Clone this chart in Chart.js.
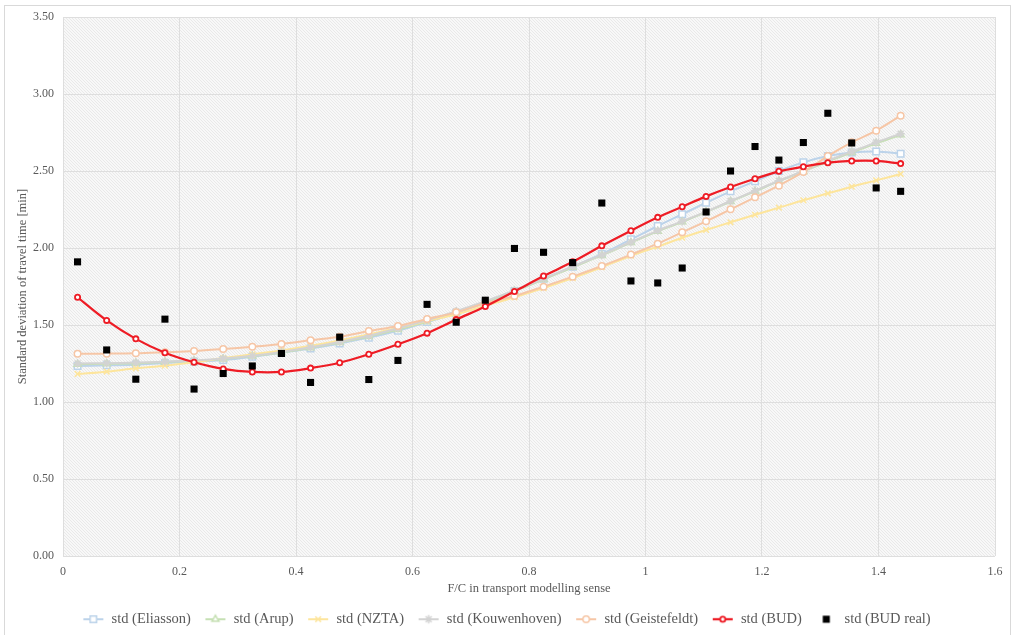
<!DOCTYPE html>
<html>
<head>
<meta charset="utf-8">
<script src="https://cdn.jsdelivr.net/npm/chart.js@4.4.1/dist/chart.umd.min.js"></script>
<style>
  html, body { margin: 0; padding: 0; background: #ffffff; }
  #wrap { position: relative; width: 1014px; height: 635px; overflow: hidden; }
  #frame { position: absolute; left: 4px; top: 5px; width: 1007px; height: 640px; border: 1px solid #d9d9d9; box-sizing: border-box; }
  #c { position: absolute; left: 0; top: 0; }
</style>
</head>
<body>
<div id="wrap">
  <div id="frame"></div>
  <canvas id="c" width="1014" height="635"></canvas>
</div>
<script>
// F/C ratio bins (x positions of every series)
const fcValues = [0.025, 0.075, 0.125, 0.175, 0.225, 0.275, 0.325, 0.375, 0.425, 0.475,
  0.525, 0.575, 0.625, 0.675, 0.725, 0.775, 0.825, 0.875, 0.925, 0.975,
  1.021, 1.063, 1.104, 1.146, 1.188, 1.229, 1.271, 1.313, 1.354, 1.396, 1.438];

// Standard deviation of travel time [min] per model
const stdEliasson = [1.234, 1.238, 1.242, 1.253, 1.262, 1.273, 1.294, 1.320, 1.347, 1.380,
  1.418, 1.463, 1.519, 1.578, 1.645, 1.720, 1.800, 1.878, 1.961, 2.056,
  2.143, 2.219, 2.294, 2.368, 2.433, 2.500, 2.556, 2.597, 2.620, 2.627, 2.612];

const stdArup = [1.245, 1.248, 1.252, 1.260, 1.268, 1.280, 1.298, 1.322, 1.352, 1.386,
  1.425, 1.470, 1.522, 1.582, 1.648, 1.720, 1.795, 1.875, 1.952, 2.035,
  2.108, 2.170, 2.234, 2.302, 2.368, 2.434, 2.497, 2.562, 2.620, 2.680, 2.735];

const stdNZTA = [1.182, 1.197, 1.219, 1.236, 1.258, 1.285, 1.310, 1.335, 1.365, 1.400,
  1.440, 1.480, 1.525, 1.570, 1.625, 1.680, 1.740, 1.805, 1.875, 1.950,
  2.009, 2.067, 2.117, 2.167, 2.216, 2.262, 2.310, 2.355, 2.398, 2.439, 2.481];

const stdKouwenhoven = [1.250, 1.252, 1.256, 1.262, 1.270, 1.282, 1.300, 1.325, 1.355, 1.390,
  1.430, 1.478, 1.530, 1.590, 1.655, 1.725, 1.800, 1.880, 1.955, 2.039,
  2.113, 2.173, 2.236, 2.305, 2.372, 2.437, 2.500, 2.567, 2.626, 2.686, 2.742];

const stdGeistefeldt = [1.314, 1.314, 1.316, 1.323, 1.331, 1.344, 1.359, 1.377, 1.401, 1.424,
  1.461, 1.494, 1.539, 1.582, 1.641, 1.688, 1.749, 1.814, 1.883, 1.957,
  2.028, 2.102, 2.173, 2.251, 2.329, 2.405, 2.494, 2.597, 2.686, 2.762, 2.859];

const stdBUD = [1.680, 1.530, 1.410, 1.320, 1.258, 1.215, 1.195, 1.195, 1.220, 1.255,
  1.310, 1.375, 1.447, 1.535, 1.620, 1.718, 1.818, 1.910, 2.014, 2.112,
  2.199, 2.268, 2.335, 2.396, 2.450, 2.498, 2.528, 2.554, 2.565, 2.565, 2.548];

const stdBUDReal = [1.910, 1.338, 1.148, 1.538, 1.084, 1.185, 1.234, 1.315, 1.127, 1.421,
  1.146, 1.270, 1.634, 1.518, 1.661, 1.997, 1.972, 1.905, 2.292, 1.786,
  1.773, 1.870, 2.234, 2.500, 2.659, 2.571, 2.685, 2.875, 2.682, 2.390, 2.368];

const seriesNames = ['std (Eliasson)', 'std (Arup)', 'std (NZTA)', 'std (Kouwenhoven)',
  'std (Geistefeldt)', 'std (BUD)', 'std (BUD real)'];

// Axis ticks
const xTickValues = [0, 0.2, 0.4, 0.6, 0.8, 1.0, 1.2, 1.4, 1.6];
const xTickLabels = ['0', '0.2', '0.4', '0.6', '0.8', '1', '1.2', '1.4', '1.6'];
const yTickValues = [0, 0.5, 1.0, 1.5, 2.0, 2.5, 3.0, 3.5];
const yTickLabels = ['0.00', '0.50', '1.00', '1.50', '2.00', '2.50', '3.00', '3.50'];

const serif = '"Liberation Serif", "Times New Roman", serif';
const textGrey = '#595959';

function toPoints(ys) {
  return fcValues.map((x, i) => ({ x: x, y: ys[i] }));
}

// Fine hatched fill for the plotting area
function makeHatch() {
  const c = document.createElement('canvas');
  c.width = 3; c.height = 3;
  const g = c.getContext('2d');
  g.fillStyle = '#f8f8f8';
  g.fillRect(0, 0, 3, 3);
  g.fillStyle = '#e9e9e9';
  for (let i = 0; i < 3; i++) g.fillRect(i, i, 1, 1);
  return g.createPattern(c, 'repeat');
}

const plotBackground = {
  id: 'plotBackground',
  afterLayout(chart) {
    // nudge the legend row to the right
    if (chart.legend) { chart.legend.left += 9; chart.legend.right += 9; }
  },
  beforeDraw(chart) {
    const a = chart.chartArea;
    const ctx = chart.ctx;
    ctx.save();
    ctx.fillStyle = makeHatch();
    ctx.fillRect(a.left, a.top, a.right - a.left, a.bottom - a.top);
    ctx.restore();
  }
};

// Legend symbol: short line with the series marker on it
function legendIcon(ds) {
  const c = document.createElement('canvas');
  c.width = 22; c.height = 12;
  const g = c.getContext('2d');
  if (ds.showLine !== false) {
    g.strokeStyle = ds.borderColor;
    g.lineWidth = ds.borderWidth;
    g.beginPath();
    g.moveTo(1, 6); g.lineTo(21, 6);
    g.stroke();
  }
  g.strokeStyle = ds.pointBorderColor;
  g.fillStyle = ds.pointBackgroundColor;
  g.lineWidth = ds.pointBorderWidth;
  Chart.helpers.drawPoint(g, { pointStyle: ds.pointStyle, radius: ds.pointRadius, rotation: 0, borderWidth: ds.pointBorderWidth }, 11, 6);
  return c;
}

function lineSeries(name, ys, color, style, radius, order, width) {
  return {
    label: name,
    data: toPoints(ys),
    borderColor: color,
    backgroundColor: color,
    borderWidth: width,
    pointStyle: style,
    pointRadius: radius,
    pointBorderColor: color,
    pointBackgroundColor: '#ffffff',
    pointBorderWidth: 1.5,
    tension: 0.35,
    order: order
  };
}

const datasets = [
  lineSeries(seriesNames[0], stdEliasson, '#bcd3ea', 'rect', 4.6, 6, 2),
  lineSeries(seriesNames[1], stdArup, '#c6e0b4', 'triangle', 4, 5, 2),
  lineSeries(seriesNames[2], stdNZTA, '#fde59c', 'crossRot', 4, 4, 2),
  lineSeries(seriesNames[3], stdKouwenhoven, '#d3d3d3', 'star', 4.2, 3, 2),
  lineSeries(seriesNames[4], stdGeistefeldt, '#f6c6a6', 'circle', 3.25, 2, 2),
  lineSeries(seriesNames[5], stdBUD, '#ee1c25', 'circle', 2.6, 1, 2.25),
  {
    label: seriesNames[6],
    data: toPoints(stdBUDReal),
    showLine: false,
    borderColor: '#000000',
    backgroundColor: '#000000',
    borderWidth: 0,
    pointStyle: 'rect',
    pointRadius: 5,
    pointBorderColor: '#000000',
    pointBackgroundColor: '#000000',
    pointBorderWidth: 0,
    order: 0
  }
];
datasets[5].pointBorderWidth = 1.8;

new Chart(document.getElementById('c'), {
  type: 'line',
  data: { datasets: datasets },
  plugins: [plotBackground],
  options: {
    responsive: false,
    animation: false,
    layout: { padding: { left: 0, right: 19, top: 17, bottom: -1.5 } },
    plugins: {
      tooltip: { enabled: false },
      legend: {
        position: 'bottom',
        labels: {
          usePointStyle: true,
          pointStyleWidth: 22,
          padding: 13.5,
          color: textGrey,
          font: { family: serif, size: 14.5 },
          sort: (a, b) => a.datasetIndex - b.datasetIndex,
          generateLabels(chart) {
            const items = Chart.defaults.plugins.legend.labels.generateLabels(chart);
            items.forEach(it => { it.pointStyle = legendIcon(chart.data.datasets[it.datasetIndex]); });
            return items;
          }
        }
      }
    },
    scales: {
      x: {
        type: 'linear',
        min: 0, max: 1.6,
        afterBuildTicks(scale) { scale.ticks = xTickValues.map(v => ({ value: v })); },
        afterFit(scale) { scale.height = 42.5; },
        grid: { color: '#dedede', drawTicks: false },
        border: { display: false },
        ticks: {
          color: textGrey,
          font: { family: serif, size: 12 },
          padding: 9,
          maxRotation: 0,
          callback: (v, i) => xTickLabels[i]
        },
        title: {
          display: true,
          text: 'F/C in transport modelling sense',
          color: textGrey,
          font: { family: serif, size: 12.5 },
          padding: { top: 0, bottom: 2.5 }
        }
      },
      y: {
        min: 0, max: 3.5,
        afterBuildTicks(scale) { scale.ticks = yTickValues.map(v => ({ value: v })); },
        afterFit(scale) { scale.width = 63; },
        grid: { color: '#dedede', drawTicks: false },
        border: { display: false },
        ticks: {
          color: textGrey,
          font: { family: serif, size: 12 },
          padding: 9,
          callback: (v, i) => yTickLabels[i]
        },
        title: {
          display: true,
          text: 'Standard deviation of travel time [min]',
          color: textGrey,
          font: { family: serif, size: 12.5 },
          padding: { top: 15, bottom: 0 }
        }
      }
    }
  }
});
</script>
</body>
</html>
